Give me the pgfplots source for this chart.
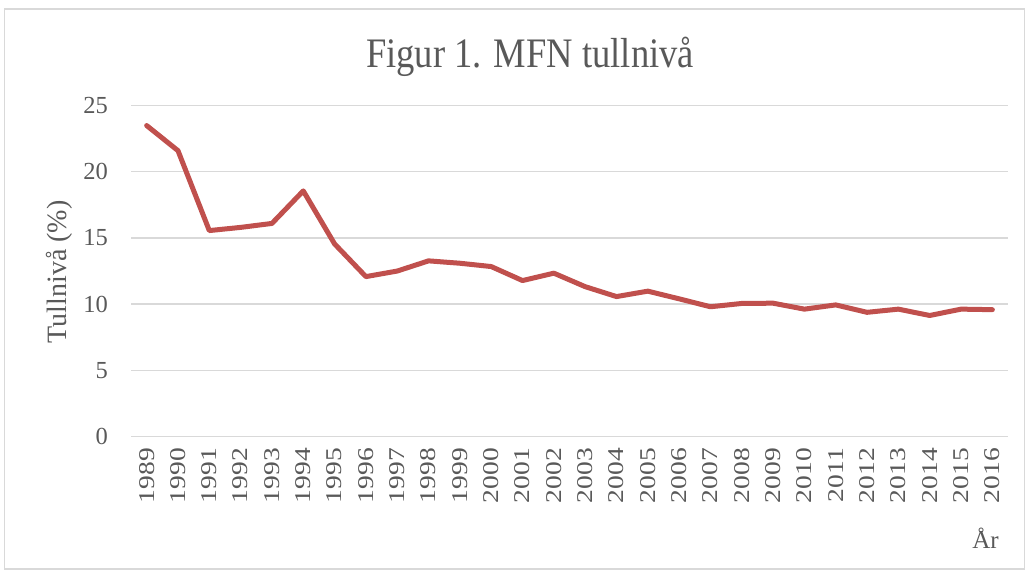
\documentclass[border=0pt]{standalone}
\usepackage{pgfplots}
\pgfplotsset{compat=1.18}
\usepackage{fontspec}
\usepackage{graphicx}
\setmainfont{Liberation Serif}
\newfontfamily\titlefont[FakeStretch=0.87]{Liberation Serif}
\definecolor{linered}{HTML}{C0504D}
\definecolor{txtgray}{HTML}{595959}
\definecolor{gridgray}{HTML}{D9D9D9}
\begin{document}
\begin{tikzpicture}
\path (0,0) rectangle (1029pt,573pt);
\draw[gridgray, line width=1.3pt] (4.5pt,4pt) rectangle (1024.5pt,564pt);
\begin{axis}[
  at={(131pt,136.6pt)}, anchor=south west,
  scale only axis, width=877pt, height=330.7pt,
  xmin=1988.5, xmax=2016.5, ymin=0, ymax=25,
  xtick=data, ytick={0,5,10,15,20,25},
  ymajorgrids, major grid style={gridgray, line width=1.3pt},
  axis line style={draw=none},
  major tick length=0pt,
  /pgf/number format/assume math mode=true,
  xticklabel={\scalebox{1}[0.82]{\pgfmathprintnumber[1000 sep={},fixed,precision=0]{\tick}}},
  x tick label style={rotate=90, anchor=east, font=\fontsize{27.5}{30}\selectfont, text=txtgray, inner sep=0pt, xshift=-11.6pt},
  y tick label style={font=\fontsize{24.5}{28}\selectfont, text=txtgray, inner sep=0pt, xshift=-23pt},
  clip=false,
]
\addplot[color=linered, line width=5pt, line join=round, line cap=round, mark=none] coordinates {
(1989,23.5) (1990,21.6) (1991,15.56) (1992,15.8) (1993,16.1) (1994,18.56)
(1995,14.55) (1996,12.08) (1997,12.5) (1998,13.27) (1999,13.09) (2000,12.84)
(2001,11.78) (2002,12.34) (2003,11.32) (2004,10.57) (2005,10.98) (2006,10.4)
(2007,9.8) (2008,10.05) (2009,10.07) (2010,9.62) (2011,9.94) (2012,9.38)
(2013,9.62) (2014,9.14) (2015,9.62) (2016,9.58)
};
\end{axis}
\node[anchor=base, text=txtgray, font=\titlefont\fontsize{42}{48}\selectfont] at (530pt,505pt) {Figur 1. MFN tullnivå};
\node[rotate=90, text=txtgray, font=\fontsize{28}{32}\selectfont] at (59pt,301pt) {Tullnivå (\%)};
\node[anchor=base, text=txtgray, font=\fontsize{25}{28}\selectfont] at (985.5pt,24pt) {År};
\end{tikzpicture}
\end{document}
